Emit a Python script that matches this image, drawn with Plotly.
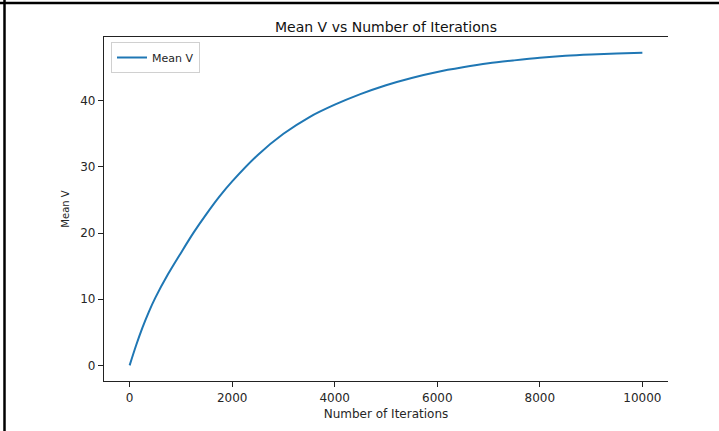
import plotly.graph_objects as go

# Mean V recorded during training, sampled along the iteration axis
iterations = [0, 125, 250, 375, 500, 750, 1000, 1250, 1500, 1750, 2000, 2500, 3000,
              3500, 4000, 4500, 5000, 5500, 6000, 6500, 7000, 7500, 8000,
              8500, 9000, 9500, 10000]
mean_v = [0.0, 3.0, 5.7, 8.1, 10.2, 13.8, 17.0, 20.1, 22.9, 25.5, 27.8, 31.8, 35.0,
          37.5, 39.4, 41.0, 42.35, 43.45, 44.35, 45.05, 45.65, 46.1, 46.5,
          46.8, 47.0, 47.15, 47.27]

x_ticks = [0, 2000, 4000, 6000, 8000, 10000]
x_tick_text = ["0", "2000", "4000", "6000", "8000", "10000"]
y_ticks = [0, 10, 20, 30, 40]

W, H = 719, 431
L, R, T, B = 104, 51, 37, 50
pw, ph = W - L - R, H - T - B

font = "DejaVu Sans"
ink = "#262626"

fig = go.Figure()
fig.add_trace(go.Scatter(
    x=iterations, y=mean_v, mode="lines", name="Mean V",
    line=dict(color="#1f77b4", width=2, shape="spline", smoothing=0.8),
))

ymax = max(mean_v)
pad_y = 0.05 * (ymax - min(mean_v))
pad_x = 0.05 * (max(iterations) - min(iterations))

axis_common = dict(
    showgrid=False, zeroline=False, showline=True, linecolor="#222222",
    linewidth=1.2, ticks="outside", ticklen=5, tickwidth=1, tickcolor="#222222",
    tickfont=dict(family=font, size=12, color=ink),
)

fig.update_layout(
    width=W, height=H,
    margin=dict(l=L, r=R, t=T, b=B, pad=0),
    paper_bgcolor="white", plot_bgcolor="white",
    title=dict(text="Mean V vs Number of Iterations", x=(L + pw / 2) / W,
               xanchor="center", y=1 - 27 / H, yanchor="middle",
               font=dict(family=font, size=14, color="#111111")),
    xaxis=dict(axis_common, range=[min(iterations) - pad_x, max(iterations) + pad_x],
               tickvals=x_ticks, ticktext=x_tick_text, mirror=True,
               title=dict(text="Number of Iterations", standoff=6,
                          font=dict(family=font, size=12, color=ink))),
    yaxis=dict(axis_common, range=[min(mean_v) - pad_y, ymax + pad_y],
               tickvals=y_ticks,
               title=dict(text="Mean V", standoff=8,
                          font=dict(family=font, size=10, color=ink))),
    legend=dict(x=(111 - L) / pw, y=(H - B - 42) / ph, xanchor="left", yanchor="top",
                bgcolor="rgba(255,255,255,0.8)", bordercolor="#d0d0d0", borderwidth=1,
                font=dict(family=font, size=11, color=ink),
                itemwidth=30, tracegroupgap=0),
    showlegend=True,
)

# Dark frame along the top and left edges of the page
fig.add_shape(type="line", xref="paper", yref="paper",
              x0=(0 - L) / pw, x1=(W - L) / pw, y0=(H - B - 3) / ph, y1=(H - B - 3) / ph,
              line=dict(color="black", width=2.5))
fig.add_shape(type="line", xref="paper", yref="paper",
              x0=(4.5 - L) / pw, x1=(4.5 - L) / pw, y0=(H - B - H) / ph, y1=(H - B) / ph,
              line=dict(color="black", width=2.5))

fig.write_html("out.html")
